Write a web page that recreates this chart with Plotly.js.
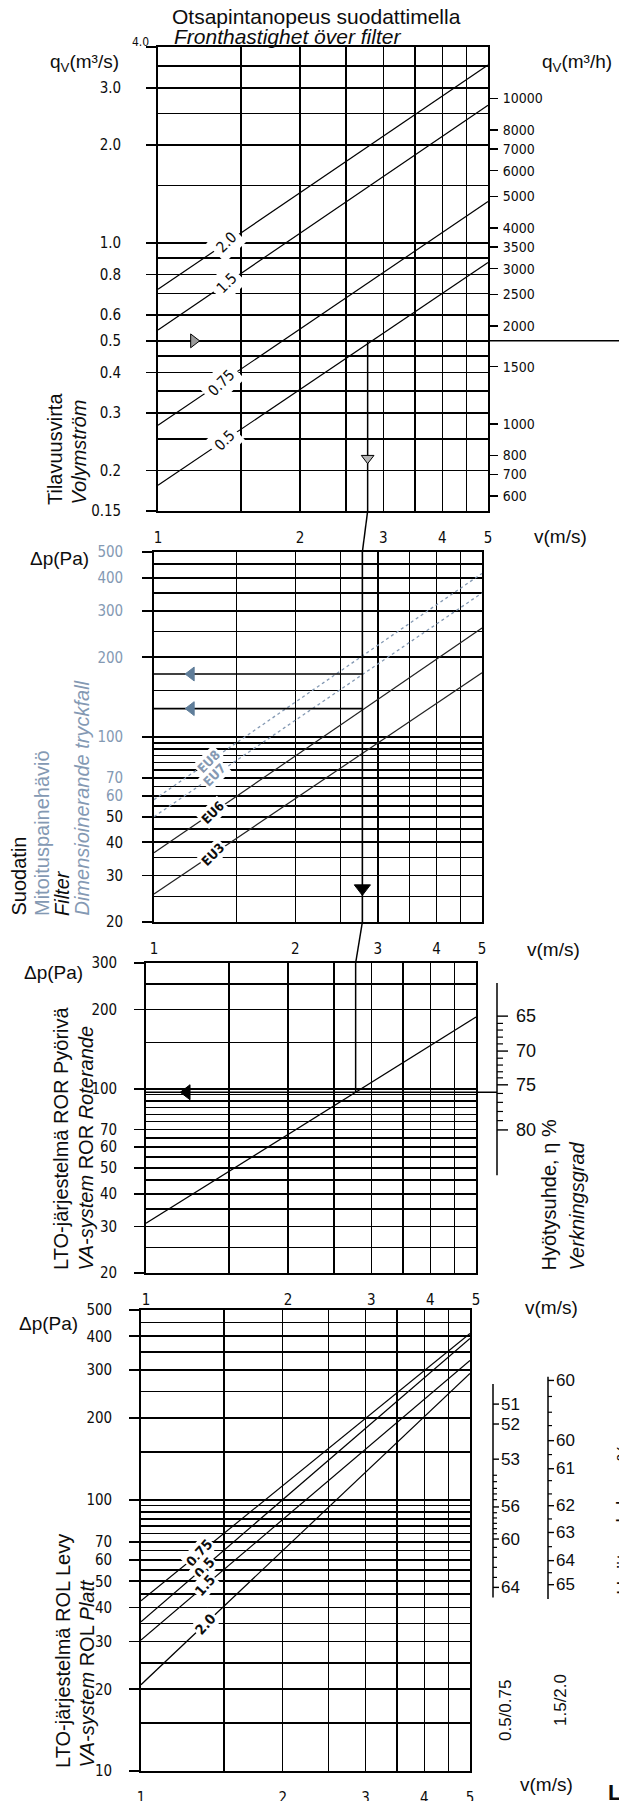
<!DOCTYPE html>
<html>
<head>
<meta charset="utf-8">
<script src="https://cdn.plot.ly/plotly-3.0.1.min.js"></script>
<style>html,body{margin:0;padding:0;background:#fff;}#chart{width:619px;height:1801px;}</style>
</head>
<body>
<div id="chart"></div>
<script>
// ================= DATA =================
// velocity axis shared by all panels, v (m/s)
const vTickVals = [1, 2, 3, 4, 5];
const vGridExtra = [1.5, 2.5, 3.5, 4.5];

// Panel 1 – volume flow q (m3/s) vs face velocity
const qTickVals = [0.15, 0.2, 0.3, 0.4, 0.5, 0.6, 0.8, 1.0, 2.0, 3.0, 4.0];
const qTickText = ['0.15', '0.2', '0.3', '0.4', '0.5', '0.6', '0.8', '1.0', '2.0', '3.0', ''];
const qTopLabel = '4.0';
const qGridExtra = [0.25, 0.35, 0.45, 0.7, 0.9, 1.5, 2.5, 3.5];
const qhTickVals = [600, 700, 800, 1000, 1500, 2000, 2500, 3000, 3500, 4000, 5000, 6000, 7000, 8000, 10000];
const SECONDS_PER_HOUR = 3600;
const areaNames = ['2.0', '1.5', '0.75', '0.5'];
const areaQatV1 = [0.72, 0.54, 0.275, 0.18];
const areaQatV5 = [3.52, 2.65, 1.34, 0.87];
const exampleQ = 0.5;
const exampleV = 2.78;
const arrowV1 = 1.19;
const arrowQ1 = 0.218;

// Panel 2 – filter pressure drop (Pa)
const dpFTickVals = [20, 30, 40, 50, 60, 70, 100, 200, 300, 400, 500];
const dpFGridExtra = [25, 35, 45, 55, 65, 75, 80, 85, 90, 95, 150, 250, 350, 450];
const filterNames = ['EU8', 'EU7', 'EU6', 'EU3'];
const filterDpAtV1 = [58, 50, 36.5, 25.5];
const filterDpAtV5 = [415, 350, 258, 175];
const filterExampleDp = [173, 128];
const arrowV2 = 1.2;
const arrowDp2 = 26.8;

// Panel 3 – rotary heat exchanger (ROR)
const dpRTickVals = [20, 30, 40, 50, 60, 70, 100, 200, 300];
const dpRGridExtra = [25, 35, 45, 55, 65, 75, 80, 85, 90, 95, 150, 250];
const rorDpAtV1 = 30.9;
const rorDpAtV5 = 187;
const rorExampleDp = 97;
const arrowV3 = 1.22;
const etaValues = [65, 66, 67, 68, 69, 70, 71, 72, 73, 74, 75, 76, 77, 78, 79, 80];
const etaAtDp = [188.6, 177, 167, 157, 148, 139, 130.6, 123, 116, 110, 103.5, 96, 88.8, 82, 75.7, 69.8];
const etaScaleEnds = [252, 47];

// Panel 4 – plate heat exchanger (ROL)
const dpPTickVals = [10, 20, 30, 40, 50, 60, 70, 100, 200, 300, 400, 500];
const dpPGridExtra = [15, 25, 35, 45, 55, 65, 75, 80, 85, 90, 95, 150, 250, 350, 450];
const plateNames = ['0.75', '0.5', '1.5', '2.0'];
const plateDpAtV1 = [42.4, 35.5, 30.4, 20.8];
const plateDpAtV5 = [410, 393, 326, 292];
const effA_labels = ['51', '52', '53', '56', '60', '64'];
const effA_dp = [225, 190, 141, 94, 71.6, 47.5];
const effA_minorDp = [123, 116.5, 110, 105, 100, 89.5, 85.6, 81.8, 78.2, 74.9, 66.7, 61.3, 56.3, 51.7];
const effA_ends = [267, 43.6];
const effB_labels = ['60', '60', '61', '62', '63', '64', '65'];
const effB_dp = [275, 165, 130, 95, 75.7, 59.6, 48.6];
const effB_minorDp = [240, 210, 187.5, 146.6, 117.5, 105, 84.9, 67.1, 53.8];
const effB_ends = [284, 43];

// ================= LAYOUT GEOMETRY =================
const W = 619, H = 1801;
const P = [
  {x0: 158, x1: 488, y0: 47,   y1: 511},
  {x0: 154, x1: 482, y0: 552,  y1: 922},
  {x0: 146, x1: 476, y0: 963,  y1: 1273},
  {x0: 141, x1: 470, y0: 1310, y1: 1771}
];
const px = x => x / W;
const py = y => 1 - y / H;
const L5 = Math.log10(5);
const vx = (i, v) => P[i].x0 + Math.log10(v) / L5 * (P[i].x1 - P[i].x0);
const NARROW = "'Liberation Sans Narrow','Arial Narrow','DejaVu Sans Condensed',sans-serif";
const SANS = "'Liberation Sans',Arial,'DejaVu Sans',sans-serif";
const INK = '#0d0d0d';
const FADE = '#8499b3';
const XN = ['x', 'x2', 'x3', 'x4'];
const YN = ['y', 'y2', 'y3', 'y4'];

function xAx(i) {
  return {
    domain: [px(P[i].x0), px(P[i].x1)], anchor: YN[i], type: 'log', range: [0, L5],
    tickmode: 'array', tickvals: vTickVals, ticktext: vTickVals.map(String),
    ticks: '', ticklen: 0, showgrid: true, gridcolor: '#000', gridwidth: 1.5,
    minor: {tickmode: 'array', tickvals: vGridExtra, showgrid: true, gridcolor: '#000', gridwidth: 1.5, ticks: ''},
    showline: true, mirror: true, linecolor: '#000', linewidth: 1.8, zeroline: false,
    tickfont: {family: NARROW, size: 15, color: INK}, ticklabelstandoff: 12, fixedrange: true
  };
}
function yAx(i, rng, vals, text, extra, standoff) {
  return {
    domain: [py(P[i].y1), py(P[i].y0)], anchor: XN[i], type: 'log',
    range: [Math.log10(rng[0]), Math.log10(rng[1])],
    tickmode: 'array', tickvals: vals, ticktext: text,
    ticks: 'outside', ticklen: 10, tickwidth: 1.7, tickcolor: '#000',
    showgrid: true, gridcolor: '#000', gridwidth: 1.7,
    minor: {tickmode: 'array', tickvals: extra, showgrid: true, gridcolor: '#000', gridwidth: 1.6, ticks: ''},
    showline: true, mirror: true, linecolor: '#000', linewidth: 1.8, zeroline: false,
    tickfont: {family: NARROW, size: 15, color: INK}, ticklabelstandoff: standoff, fixedrange: true
  };
}

// ================= TRACES =================
const traces = [];
function line(i, xs, ys, color, width, dash) {
  traces.push({type: 'scatter', mode: 'lines', x: xs, y: ys, xaxis: XN[i], yaxis: YN[i],
    line: {color: color, width: width, dash: dash || 'solid'}, hoverinfo: 'skip', showlegend: false});
}
function mark(i, x, y, symbol, size, color, lc) {
  traces.push({type: 'scatter', mode: 'markers', x: [x], y: [y], xaxis: XN[i], yaxis: YN[i], cliponaxis: false,
    marker: {symbol: symbol, size: size, color: color, line: {color: lc || color, width: 1}}, hoverinfo: 'skip', showlegend: false});
}

// panel 1
areaNames.forEach((n, k) => line(0, [1, 5], [areaQatV1[k], areaQatV5[k]], '#000', 1.2));
line(0, [exampleV, exampleV], [exampleQ, qTickVals[0]], '#000', 1.5);
mark(0, arrowV1, exampleQ, 'triangle-right', 12, '#9a9a9a', '#000');
mark(0, exampleV, arrowQ1, 'triangle-down', 11, '#b5b5b5', '#000');
traces.push({type: 'scatter', mode: 'markers', x: [2], y: [1000], xaxis: 'x', yaxis: 'y5', marker: {opacity: 0}, hoverinfo: 'skip', showlegend: false});

// panel 2
filterNames.forEach((n, k) => {
  const faded = k < 2;
  line(1, [1, 5], [filterDpAtV1[k], filterDpAtV5[k]], faded ? FADE : '#222', faded ? 1.3 : 1.2, faded ? 'dot' : 'solid');
});
filterExampleDp.forEach(d => {
  line(1, [1, exampleV], [d, d], '#000', 1.6);
  mark(1, arrowV2, d, 'triangle-left', 12, '#5f7d99');
});
line(1, [exampleV, exampleV], [dpFTickVals[dpFTickVals.length - 1], dpFTickVals[0]], '#000', 1.6);
mark(1, exampleV, arrowDp2, 'triangle-down', 14, '#000');

// panel 3
line(2, [1, 5], [rorDpAtV1, rorDpAtV5], '#000', 1.2);
line(2, [exampleV, exampleV], [dpRTickVals[dpRTickVals.length - 1], rorExampleDp], '#000', 1.5);
line(2, [1, 5], [rorExampleDp, rorExampleDp], '#000', 1.6);
mark(2, arrowV3, rorExampleDp, 'triangle-left', 13, '#000');

// panel 4
plateNames.forEach((n, k) => line(3, [1, 5], [plateDpAtV1[k], plateDpAtV5[k]], '#000', 1.2));

// ================= SHAPES =================
const shapes = [];
function seg(x0, y0, x1, y1, xref, yref, w) {
  shapes.push({type: 'line', xref: xref, yref: yref, x0: x0, y0: y0, x1: x1, y1: y1,
    line: {color: '#000', width: w || 1.5}, layer: 'above'});
}
// vertical read line bridging panels
seg(px(vx(0, exampleV)), py(P[0].y1), px(vx(1, exampleV)), py(P[1].y0), 'paper', 'paper', 1.5);
seg(px(vx(1, exampleV)), py(P[1].y1), px(vx(2, exampleV)), py(P[2].y0), 'paper', 'paper', 1.5);
// q = 0.5 extends to the page edge
seg(px(P[0].x1), exampleQ, 1, exampleQ, 'paper', 'y', 1.5);
// panel 3 read line to the efficiency scale
const etaX = 497;
seg(px(P[2].x1), rorExampleDp, px(etaX), rorExampleDp, 'paper', 'y3', 1.5);

const annotations = [];
function txt(text, x, y, o) {
  annotations.push(Object.assign({xref: 'paper', yref: 'paper', x: px(x), y: py(y), text: text, showarrow: false,
    xanchor: 'center', yanchor: 'middle', font: {family: SANS, size: 20, color: INK}}, o || {}));
}
function scale(yref, ax, ends, majorDp, majorLab, minorDp, majLen, minLen, labX, fs) {
  seg(px(ax), ends[0], px(ax), ends[1], 'paper', yref, 1.5);
  majorDp.forEach((d, k) => {
    seg(px(ax), d, px(ax + majLen), d, 'paper', yref, 1.4);
    annotations.push({xref: 'paper', yref: yref, x: px(labX), y: Math.log10(d), text: majorLab[k], showarrow: false,
      xanchor: 'left', yanchor: 'middle', font: {family: SANS, size: fs, color: INK}});
  });
  minorDp.forEach(d => seg(px(ax), d, px(ax + minLen), d, 'paper', yref, 1.2));
}
// efficiency scale, panel 3
const etaMajorDp = [], etaMajorLab = [], etaMinorDp = [];
etaValues.forEach((e, k) => {
  if (e % 5 === 0) { etaMajorDp.push(etaAtDp[k]); etaMajorLab.push(String(e)); }
  else etaMinorDp.push(etaAtDp[k]);
});
scale('y3', etaX, etaScaleEnds, etaMajorDp, etaMajorLab, etaMinorDp, 11, 6, 514, 18);
// plate efficiency scales, panel 4
scale('y4', 493, effA_ends, effA_dp, effA_labels, effA_minorDp, 6, 4, 499, 17);
scale('y4', 548, effB_ends, effB_dp, effB_labels, effB_minorDp, 6, 4, 554, 17);

// ================= LABELS =================
function onLine(lo, hi, v) {
  return Math.log10(lo) + (Math.log10(hi) - Math.log10(lo)) * Math.log10(v) / L5;
}
function lineLabel(i, text, v, lo, hi, color, angle, size, pad) {
  annotations.push({xref: XN[i], yref: YN[i], x: Math.log10(v), y: onLine(lo, hi, v), text: text, showarrow: false,
    textangle: angle, bgcolor: '#fff', borderpad: pad,
    font: {family: NARROW, size: size, color: color}});
}
const labelV1 = [1.40, 1.40, 1.36, 1.38];
areaNames.forEach((n, k) => lineLabel(0, n, labelV1[k], areaQatV1[k], areaQatV5[k], INK, -45, 15, 4));
const labelV2 = [1.31, 1.35, 1.335, 1.335];
filterNames.forEach((n, k) => lineLabel(1, '<b>' + n + '</b>', labelV2[k], filterDpAtV1[k], filterDpAtV5[k], k < 2 ? FADE : INK, -45, 13, 1));
const labelV4 = [1.33, 1.36, 1.37, 1.37];
plateNames.forEach((n, k) => lineLabel(3, '<b>' + n + '</b>', labelV4[k], plateDpAtV1[k], plateDpAtV5[k], INK, -48, 14, 1));

// titles
txt('Otsapintanopeus suodattimella', 170, 17, {xanchor: 'left', font: {family: SANS, size: 21, color: INK}});
txt('<i>Fronthastighet över filter</i>', 172, 37, {xanchor: 'left', font: {family: SANS, size: 21, color: INK}});
txt('q<sub>V</sub>(m³/s)', 84, 63, {font: {family: SANS, size: 19, color: INK}});
txt(qTopLabel, 140, 42, {font: {family: NARROW, size: 12, color: INK}});
txt('q<sub>V</sub>(m³/h)', 577, 63, {font: {family: SANS, size: 19, color: INK}});
[[560, 537], [553, 949], [551, 1307], [546, 1784]].forEach(p => txt('v(m/s)', p[0], p[1], {font: {family: SANS, size: 19, color: INK}}));
[[59, 559], [53, 973], [48, 1323]].forEach(p => txt('Δp(Pa)', p[0], p[1], {font: {family: SANS, size: 19, color: INK}}));

const rot = (text, x, yb, color) => txt(text, x, yb, {textangle: -90, yanchor: 'bottom', font: {family: SANS, size: 20, color: color || INK}});
rot('Tilavuusvirta', 55, 507);
rot('<i>Volymström</i>', 79, 507);
rot('Suodatin', 18, 918);
rot('Mitoituspainehäviö', 42, 918, FADE);
rot('<i>Filter</i>', 62, 918);
rot('<i>Dimensioinerande tryckfall</i>', 81, 918, FADE);
rot('LTO-järjestelmä ROR Pyörivä', 61, 1272);
rot('<i>VA-system</i> ROR <i>Roterande</i>', 85, 1272);
rot('LTO-järjestelmä ROL Levy', 63, 1770);
rot('<i>VA-system</i> ROL <i>Platt</i>', 86, 1770);
rot('Hyötysuhde, η %', 548, 1273);
rot('<i>Verkningsgrad</i>', 576, 1273);
txt('0.5/0.75', 505, 1711, {textangle: -90, font: {family: SANS, size: 17, color: INK}});
txt('1.5/2.0', 560, 1700, {textangle: -90, font: {family: SANS, size: 17, color: INK}});
txt('Hyötysuhde, η %', 624, 1520, {textangle: -90, font: {family: SANS, size: 20, color: INK}});
txt('<b>L</b>', 614, 1792, {font: {family: SANS, size: 22, color: INK}});

const fTickText = dpFTickVals.map(v => v >= 60 ? '<span style="color:' + FADE + '">' + v + '</span>' : String(v));

const layout = {
  width: W, height: H, margin: {l: 0, r: 0, t: 0, b: 0, pad: 0},
  paper_bgcolor: '#fff', plot_bgcolor: 'rgba(0,0,0,0)', showlegend: false,
  xaxis: xAx(0), xaxis2: xAx(1), xaxis3: xAx(2), xaxis4: xAx(3),
  yaxis: yAx(0, [0.15, 4], qTickVals, qTickText, qGridExtra, 22),
  yaxis2: yAx(1, [20, 500], dpFTickVals, fTickText, dpFGridExtra, 16),
  yaxis3: yAx(2, [20, 300], dpRTickVals, dpRTickVals.map(String), dpRGridExtra, 14),
  yaxis4: yAx(3, [10, 500], dpPTickVals, dpPTickVals.map(String), dpPGridExtra, 14),
  yaxis5: {
    overlaying: 'y', side: 'right', anchor: 'x', type: 'log',
    range: [Math.log10(0.15 * SECONDS_PER_HOUR), Math.log10(4 * SECONDS_PER_HOUR)],
    tickmode: 'array', tickvals: qhTickVals, ticktext: qhTickVals.map(String),
    ticks: 'outside', ticklen: 9, tickwidth: 1.5, tickcolor: '#000',
    showgrid: false, showline: false, zeroline: false,
    tickfont: {family: NARROW, size: 14, color: INK}, ticklabelstandoff: 2, fixedrange: true
  },
  shapes: shapes,
  annotations: annotations
};

Plotly.newPlot('chart', traces, layout, {staticPlot: true, displayModeBar: false});
</script>
</body>
</html>
